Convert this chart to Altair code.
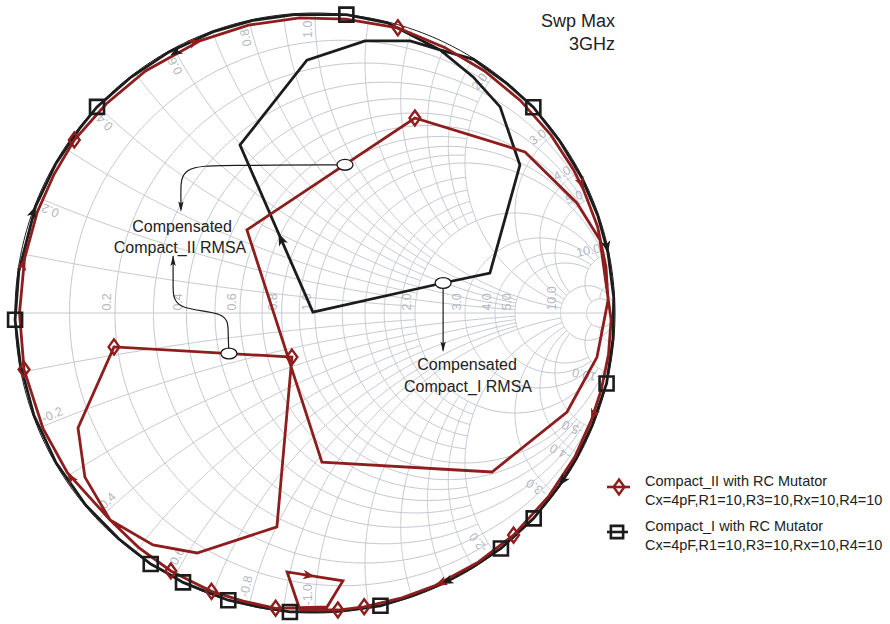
import altair as alt
import numpy as np
import pandas as pd

RED = "#8e1d1d"
BLACK = "#1c1c1c"
GRID = "#c4c8d0"
LABEL = "#b4b8c0"
FONT = "Liberation Sans"

# ---------------- Compact_I with RC Mutator (reflection coefficient) ----------------
# outer sweep before the resonance loop: angle of Gamma (deg) and |Gamma|
c1_arc1_deg = [-64, -71, -77.4, -86, -94.8, -101, -106.8, -112, -116.1, -120, -123.2, -131,
               -140, -150, -160, -170, -178.7, -188, -200.9, -210, -218, -223.4, -232,
               -240.7, -250, -258, -266, -276, -284]
c1_arc1_mag = [0.997, 0.997, 1.0, 0.997, 1.0, 0.997, 1.0, 0.997, 1.0, 0.997, 1.0, 0.997,
               0.997, 0.997, 0.997, 0.997, 1.0, 0.997, 0.997, 0.997, 0.997, 1.0, 0.997,
               0.997, 0.997, 0.997, 0.997, 1.0, 0.997]
# resonance loop (Re, Im of Gamma)
c1_loop_re = [0.417, 0.527, 0.617, 0.683, 0.583, 0.427, -0.007, -0.250, -0.027, 0.167, 0.317, 0.417]
c1_loop_im = [0.877, 0.787, 0.687, 0.493, 0.133, 0.100, 0.003, 0.560, 0.843, 0.907, 0.907, 0.877]
# outer sweep after the loop
c1_arc2_deg = [58, 50, 43.3, 35, 27, 19, 11.6, 3, -5, -13.6, -22, -29, -35.3, -43.2, -51.7, -58, -65]
c1_arc2_mag = [0.997, 0.997, 1.0, 0.997, 0.997, 0.997, 0.997, 0.997, 0.997, 1.0, 0.997, 0.997,
               0.997, 1.0, 1.0, 0.997, 0.997]
# square markers
c1_mark_deg = [-77.4, -94.8, -106.8, -116.1, -123.2, -178.7, -223.4, -276, 43.3, -13.6, -43.2, -51.7]
c1_mark_mag = [1.0] * 12
# direction arrows on the outer sweep
c1_arrow_deg = [159.1, 119.3, 11.6, -35.3, -65]
c1_arrow_mag = [0.997, 0.985, 0.997, 0.997, 0.997]
c1_arrow_turn = ["cw", "ccw", "cw", "cw", "cw"]

# ---------------- Compact_II with RC Mutator ----------------
c2_arc1_deg = [-80.5, -85.6]
c2_arc1_mag = [0.993, 0.993]
c2_loopC_re = [-0.050, -0.093, 0.093, 0.040]
c2_loopC_im = [-0.990, -0.863, -0.893, -0.980]
c2_arc2_deg = [-97.6, -104, -110.4, -115, -119.2, -127]
c2_arc2_mag = [0.993, 0.99, 0.99, 0.985, 0.985, 0.978]
c2_loopB_re = [-0.683, -0.540, -0.393, -0.127, -0.077, -0.670, -0.790, -0.767, -0.683]
c2_loopB_im = [-0.690, -0.773, -0.800, -0.713, -0.147, -0.113, -0.383, -0.547, -0.690]
c2_arc3_deg = [-147.2, -157, -169, -180, -190.6, -200, -208, -215.7, -225, -235, -247.2, -257,
               -267, -276, -286.2, -296, -305, -314, -323, -331, -335.2, -343, -351]
c2_arc3_mag = [0.982, 0.985, 0.988, 0.985, 0.985, 0.985, 0.985, 0.988, 0.985, 0.985, 0.985, 0.985,
               0.985, 0.985, 0.99, 0.985, 0.985, 0.985, 0.985, 0.985, 0.985, 0.985, 0.982]
c2_loopA_re = [0.977, 0.940, 0.840, 0.590, 0.023, -0.227, 0.333, 0.700, 0.873, 0.950, 0.987]
c2_loopA_im = [0.043, -0.147, -0.330, -0.530, -0.497, 0.277, 0.650, 0.537, 0.367, 0.243, -0.023]
c2_arc4_deg = [-8, -15, -21.3, -29, -38, -48.2, -57, -66.2, -73, -80.5]
c2_arc4_mag = [0.988, 0.988, 0.988, 0.99, 0.99, 0.993, 0.993, 0.993, 0.993, 0.993]
# diamond markers
c2_mark_deg = [-85.6, -97.6, -110.4, -119.2, -169, -215.7, -286.2, -48.2, -80.5]
c2_mark_mag = [0.993, 0.993, 0.99, 0.985, 0.988, 0.988, 0.99, 0.993, 0.993]
c2_mark_re = [-0.077, -0.670, 0.333]
c2_mark_im = [-0.147, -0.113, 0.650]
c2_arrow_deg = [112.8, 169.4, -147.2, 24.8, -21.3, -66.2]
c2_arrow_mag = [0.988, 0.988, 0.982, 0.988, 0.988, 0.993]
c2_arrow_turn = ["cw"] * 6

# ---------------- annotations ----------------
ann_text = ["Compensated", "Compact_II RMSA", "Compensated", "Compact_I RMSA"]
ann_text_re = [-0.443, -0.450, 0.507, 0.510]
ann_text_im = [0.287, 0.217, -0.173, -0.247]
ann_oval_re = [0.100, -0.287, 0.427]
ann_oval_im = [0.494, -0.135, 0.100]
ann1_re = [0.100, -0.300, -0.447, -0.447, -0.447]
ann1_im = [0.494, 0.492, 0.490, 0.400, 0.345]
ann2_re = [-0.287, -0.290, -0.290, -0.473, -0.473, -0.473]
ann2_im = [-0.135, -0.060, 0.005, 0.010, 0.090, 0.190]
ann3_re = [0.427, 0.427]
ann3_im = [0.090, -0.125]
ann_tip_re = [-0.447, -0.473, 0.427]
ann_tip_im = [0.337, 0.192, -0.130]
ann_tip_ang = [180, 0, 180]

legend_title = ["Compact_II with RC Mutator", "Compact_I with RC Mutator"]
legend_sub = "Cx=4pF,R1=10,R3=10,Rx=10,R4=10"

# Smith chart grid: (value, limit of the other coordinate)
r_grid = [(0.1, 2), (0.3, 2), (0.5, 2), (0.7, 2), (0.9, 2), (0.2, 5), (0.4, 5), (0.6, 5), (0.8, 5),
          (1.0, 10), (1.2, 2), (1.4, 2), (1.6, 2), (1.8, 2), (2.0, 10), (3.0, 10), (4.0, 10),
          (5.0, 10), (10.0, 50), (20.0, 50)]
x_grid = [(0.1, 2), (0.3, 2), (0.5, 2), (0.7, 2), (0.9, 2), (0.2, 5), (0.4, 5), (0.6, 5), (0.8, 5),
          (1.0, 10), (1.2, 2), (1.4, 2), (1.6, 2), (1.8, 2), (2.0, 10), (3.0, 10), (4.0, 10),
          (5.0, 10), (10.0, 20), (20.0, 20)]
r_labels = [0.2, 0.4, 0.6, 0.8, 1.0, 2.0, 3.0, 4.0, 5.0, 10.0]
x_labels = [0.2, 0.4, 0.6, 0.8, 1.0, 2.0, 3.0, 4.0, 5.0, 10.0]


def polar(deg, mag):
    a = np.radians(np.asarray(deg, float))
    m = np.asarray(mag, float)
    return m * np.cos(a), m * np.sin(a)


def gamma(z):
    return (z - 1) / (z + 1)


def path_frame(parts):
    re, im = [], []
    for kind, a, b in parts:
        if kind == "polar":
            x, y = polar(a, b)
        else:
            x, y = np.asarray(a, float), np.asarray(b, float)
        re.extend(x)
        im.extend(y)
    return pd.DataFrame({"re": re, "im": im, "k": range(len(re))})


def outer_arrows(deg, mag, turn):
    x, y = polar(deg, mag)
    ang = [(180 - d) % 360 if t == "cw" else (360 - d) % 360 for d, t in zip(deg, turn)]
    return pd.DataFrame({"re": x, "im": y, "ang": ang})


def segment_arrow(re, im, i, t):
    x0, y0, x1, y1 = re[i], im[i], re[i + 1], im[i + 1]
    return {"re": x0 + t * (x1 - x0), "im": y0 + t * (y1 - y0),
            "ang": float(np.degrees(np.arctan2(x1 - x0, y1 - y0)) % 360)}


c1_df = path_frame([("polar", c1_arc1_deg, c1_arc1_mag), ("cart", c1_loop_re, c1_loop_im),
                    ("polar", c1_arc2_deg, c1_arc2_mag)])
c2_df = path_frame([("polar", c2_arc1_deg, c2_arc1_mag), ("cart", c2_loopC_re, c2_loopC_im),
                    ("polar", c2_arc2_deg, c2_arc2_mag), ("cart", c2_loopB_re, c2_loopB_im),
                    ("polar", c2_arc3_deg, c2_arc3_mag), ("cart", c2_loopA_re, c2_loopA_im),
                    ("polar", c2_arc4_deg, c2_arc4_mag)])

sq_x, sq_y = polar(c1_mark_deg, c1_mark_mag)
squares = pd.DataFrame({"re": sq_x, "im": sq_y})
dm_x, dm_y = polar(c2_mark_deg, c2_mark_mag)
diamonds = pd.DataFrame({"re": list(dm_x) + c2_mark_re, "im": list(dm_y) + c2_mark_im})

c1_arrows = pd.concat([outer_arrows(c1_arrow_deg, c1_arrow_mag, c1_arrow_turn),
                       pd.DataFrame([segment_arrow(c1_loop_re, c1_loop_im, 6, 0.47)])])
c2_arrows = pd.concat([outer_arrows(c2_arrow_deg, c2_arrow_mag, c2_arrow_turn),
                       pd.DataFrame([segment_arrow(c2_loopC_re, c2_loopC_im, 1, 0.5)])])

# grid curves
rows = []
gid = 0
for r, xmax in r_grid:
    t = np.linspace(-np.arctan(xmax), np.arctan(xmax), 260)
    g = gamma(r + 1j * np.tan(t))
    rows += [(v.real, v.imag, gid, k) for k, v in enumerate(g)]
    gid += 1
for xv, rmax in x_grid:
    for s in (1, -1):
        t = np.linspace(0, np.arctan(rmax), 200)
        g = gamma(np.tan(t) + 1j * s * xv)
        rows += [(v.real, v.imag, gid, k) for k, v in enumerate(g)]
        gid += 1
rows += [(-1.0, 0.0, gid, 0), (1.0, 0.0, gid, 1)]
grid_df = pd.DataFrame(rows, columns=["re", "im", "g", "k"])

th = np.linspace(0, 2 * np.pi, 361)
edge_df = pd.DataFrame({"re": np.cos(th), "im": np.sin(th), "k": range(361)})

# grid labels
rl = pd.DataFrame({"re": [(r - 1) / (r + 1) - 0.004 for r in r_labels], "im": 0.008,
                   "txt": [f"{r:.1f}" for r in r_labels]})
xa = [np.pi - 2 * np.arctan(v) for v in x_labels]
xl_top = pd.DataFrame({"re": [0.975 * np.cos(a) for a in xa], "im": [0.975 * np.sin(a) for a in xa],
                       "ang": [(-np.degrees(a)) % 360 for a in xa],
                       "txt": [f"{v:.1f}" for v in x_labels]})
xl_bot = pd.DataFrame({"re": [0.975 * np.cos(a) for a in xa], "im": [-0.975 * np.sin(a) for a in xa],
                       "ang": [(-180 + np.degrees(a)) % 360 for a in xa],
                       "txt": [f"-{v:.1f}" for v in x_labels]})

SC = alt.Scale(domain=[-1, 1], nice=False, zero=False)
X = alt.X("re:Q", scale=SC, axis=None)
Y = alt.Y("im:Q", scale=SC, axis=None)

ARROW = "M0,0 L0.6,1.5 L0,1.1 L-0.6,1.5 Z"
THIN_ARROW = "M0,0 L0.38,1.5 L0,1.2 L-0.38,1.5 Z"
DIAMOND = "M0,-1.25 L0.9,0 L0,1.25 L-0.9,0 Z"
OVAL = ("M-1,0 C-1,-0.38 -0.55,-0.68 0,-0.68 C0.55,-0.68 1,-0.38 1,0 "
        "C1,0.38 0.55,0.68 0,0.68 C-0.55,0.68 -1,0.38 -1,0 Z")

grid = alt.Chart(grid_df).mark_line(color=GRID, strokeWidth=1).encode(
    x=X, y=Y, detail="g:N", order="k:Q")
edge = alt.Chart(edge_df).mark_line(color=BLACK, strokeWidth=1).encode(x=X, y=Y, order="k:Q")
r_text = alt.Chart(rl).mark_text(angle=270, align="left", baseline="bottom", fontSize=12.5,
                                 font=FONT, color=LABEL).encode(x=X, y=Y, text="txt:N")
x_top = alt.Chart(xl_top).mark_text(align="right", baseline="bottom", fontSize=12.5, font=FONT,
                                    color=LABEL).encode(
    x=X, y=Y, text="txt:N", angle=alt.Angle("ang:Q", scale=None))
x_bot = alt.Chart(xl_bot).mark_text(align="left", baseline="bottom", fontSize=12.5, font=FONT,
                                    color=LABEL).encode(
    x=X, y=Y, text="txt:N", angle=alt.Angle("ang:Q", scale=None))

line1 = alt.Chart(c1_df).mark_line(color=BLACK, strokeWidth=2.8).encode(x=X, y=Y, order="k:Q")
line2 = alt.Chart(c2_df).mark_line(color=RED, strokeWidth=2.8).encode(x=X, y=Y, order="k:Q")
sq = alt.Chart(squares).mark_point(shape="square", size=196, filled=False, color=BLACK,
                                   strokeWidth=2.6, opacity=1).encode(x=X, y=Y)
dm = alt.Chart(diamonds).mark_point(shape=DIAMOND, size=144, filled=False, color=RED,
                                    strokeWidth=2.4, opacity=1).encode(x=X, y=Y)
ar1 = alt.Chart(c1_arrows).mark_point(shape=ARROW, size=256, filled=True, color=BLACK,
                                      opacity=1).encode(x=X, y=Y, angle=alt.Angle("ang:Q", scale=None))
ar2 = alt.Chart(c2_arrows).mark_point(shape=ARROW, size=256, filled=True, color=RED,
                                      opacity=1).encode(x=X, y=Y, angle=alt.Angle("ang:Q", scale=None))

conn = []
for cre, cim in [(ann1_re, ann1_im), (ann2_re, ann2_im), (ann3_re, ann3_im)]:
    d = pd.DataFrame({"re": cre, "im": cim, "k": range(len(cre))})
    conn.append(alt.Chart(d).mark_line(color=BLACK, strokeWidth=1.2, interpolate="basis").encode(
        x=X, y=Y, order="k:Q"))
tips = alt.Chart(pd.DataFrame({"re": ann_tip_re, "im": ann_tip_im, "ang": ann_tip_ang})).mark_point(
    shape=THIN_ARROW, size=196, filled=True, color=BLACK, opacity=1).encode(
    x=X, y=Y, angle=alt.Angle("ang:Q", scale=None))
ovals = alt.Chart(pd.DataFrame({"re": ann_oval_re, "im": ann_oval_im})).mark_point(
    shape=OVAL, size=256, filled=True, color="white", stroke=BLACK, strokeWidth=1.3,
    opacity=1).encode(x=X, y=Y)
ann = alt.Chart(pd.DataFrame({"re": ann_text_re, "im": ann_text_im, "txt": ann_text})).mark_text(
    align="center", baseline="middle", fontSize=16, font=FONT, color="#222222").encode(
    x=X, y=Y, text="txt:N")

one = pd.DataFrame({"d": [0]})


def txt(s, px, py, size, align="left", baseline="middle"):
    return alt.Chart(one).mark_text(text=s, align=align, baseline=baseline, fontSize=size,
                                    font=FONT, color="#222222").encode(
        x=alt.value(px), y=alt.value(py))


def rule(px1, px2, py, color):
    return alt.Chart(one).mark_rule(color=color, strokeWidth=2.6).encode(
        x=alt.value(px1), x2=alt.value(px2), y=alt.value(py))


sweep = [txt("Swp Max", 600, 14, 18, "right", "alphabetic"),
         txt("3GHz", 600, 37, 18, "right", "alphabetic")]
legend = [
    rule(592, 615, 474, RED),
    alt.Chart(one).mark_point(shape=DIAMOND, size=144, filled=False, color=RED, strokeWidth=2.4,
                              opacity=1).encode(x=alt.value(604), y=alt.value(474)),
    txt(legend_title[0], 630, 469, 14.5), txt(legend_sub, 630, 488, 14.5),
    rule(592, 613, 519, BLACK),
    alt.Chart(one).mark_point(shape="square", size=150, filled=False, color=BLACK, strokeWidth=2.6,
                              opacity=1).encode(x=alt.value(602), y=alt.value(519)),
    txt(legend_title[1], 630, 514, 14.5), txt(legend_sub, 630, 533, 14.5),
]

chart = alt.layer(
    grid, edge, r_text, x_top, x_bot, line1, line2, sq, dm, ar1, ar2, *conn, tips, ovals, ann,
    *sweep, *legend
).properties(
    width=600, height=600,
    autosize=alt.AutoSizeParams(type="none"),
    padding={"left": 15, "top": 13, "right": 275, "bottom": 11},
    background="white",
).configure_view(strokeWidth=0)

chart.save("out.html", embed_options={"renderer": "svg", "actions": False})
